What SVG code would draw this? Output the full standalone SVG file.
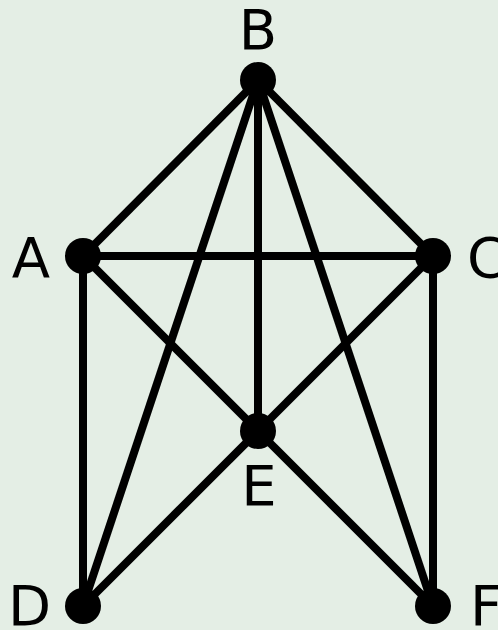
<svg xmlns="http://www.w3.org/2000/svg" width="498" height="630" viewBox="0 0 498 630">
<style>
.e{stroke:#000;stroke-width:8;fill:none}
.n{fill:#000}
.t{font-family:"DejaVu Sans",sans-serif;font-size:56px;fill:#000}
</style>
<rect width="498" height="630" fill="#e4eee5"/>
<g id="connectors">
<line class="e" x1="258" y1="80" x2="83" y2="256"/>
<line class="e" x1="258" y1="80" x2="433" y2="256"/>
<line class="e" x1="258" y1="80" x2="83" y2="606"/>
<line class="e" x1="258" y1="80" x2="258" y2="431"/>
<line class="e" x1="258" y1="80" x2="433" y2="606"/>
<line class="e" x1="83" y1="256" x2="433" y2="256"/>
<line class="e" x1="83" y1="256" x2="258" y2="431"/>
<line class="e" x1="83" y1="256" x2="83" y2="606"/>
<line class="e" x1="433" y1="256" x2="258" y2="431"/>
<line class="e" x1="433" y1="256" x2="433" y2="606"/>
<line class="e" x1="258" y1="431" x2="83" y2="606"/>
<line class="e" x1="258" y1="431" x2="433" y2="606"/>
</g>
<g id="B"><circle class="n" cx="258" cy="80" r="18"/><text class="t" x="258" y="49" text-anchor="middle">B</text></g>
<g id="A"><circle class="n" cx="83" cy="256" r="18"/><text class="t" x="31" y="277" text-anchor="middle">A</text></g>
<g id="C"><circle class="n" cx="433" cy="256" r="18"/><text class="t" x="467" y="277">C</text></g>
<g id="E"><circle class="n" cx="258" cy="431" r="18"/><text class="t" x="259" y="505" text-anchor="middle">E</text></g>
<g id="D"><circle class="n" cx="83" cy="606" r="18"/><text class="t" x="8" y="625">D</text></g>
<g id="F"><circle class="n" cx="433" cy="606" r="18"/><text class="t" x="470" y="625">F</text></g>
</svg>
